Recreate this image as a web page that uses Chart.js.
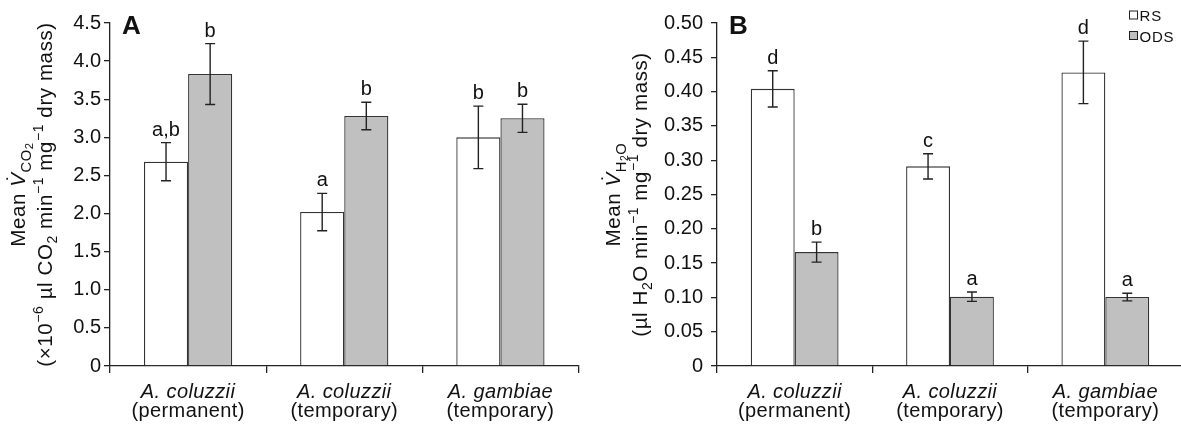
<!DOCTYPE html>
<html>
<head>
<meta charset="utf-8">
<script src="https://cdn.jsdelivr.net/npm/chart.js@4.4.0/dist/chart.umd.min.js"></script>
<style>
  body { margin: 0; background: #fff; }
  #wrap { position: relative; width: 1181px; height: 428px; overflow: hidden; background: #fff; }
  #boxA { position: absolute; left: 0; top: 0; width: 590px; height: 428px; }
  #boxB { position: absolute; left: 590px; top: 0; width: 591px; height: 428px; overflow: hidden; }
</style>
</head>
<body>
<div id="wrap">
  <div id="boxA"><canvas id="chartA" width="590" height="428"></canvas></div>
  <div id="boxB"><canvas id="chartB" width="600" height="428"></canvas></div>
</div>
<script>
// categories
var species = ['A. coluzzii', 'A. coluzzii', 'A. gambiae'];
var habitats = ['(permanent)', '(temporary)', '(temporary)'];
var seriesNames = ['RS', 'ODS'];

// panel A - CO2 release
var co2RS = [2.68, 2.02, 3.00];
var co2RSerr = [0.25, 0.245, 0.41];
var co2ODS = [3.83, 3.28, 3.25];
var co2ODSerr = [0.40, 0.18, 0.185];
var co2RSletters = ['a,b', 'a', 'b'];
var co2ODSletters = ['b', 'b', 'b'];

// panel B - water loss
var h2oRS = [0.404, 0.291, 0.428];
var h2oRSerr = [0.0265, 0.0185, 0.0456];
var h2oODS = [0.166, 0.101, 0.1005];
var h2oODSerr = [0.0146, 0.0068, 0.0055];
var h2oRSletters = ['d', 'c', 'd'];
var h2oODSletters = ['b', 'a', 'a'];

var FONT = 'Arial, "Liberation Sans", Helvetica, sans-serif';
var INK = '#111';

// draws a line of text with sub/superscripts, rotated for a y axis title
function drawRich(ctx, segs, x, cy, base, spacing) {
    ctx.save();
    ctx.translate(x, cy);
    ctx.rotate(-Math.PI / 2);
    ctx.textBaseline = 'alphabetic';
    ctx.textAlign = 'left';
    ctx.letterSpacing = spacing + 'px';
    var total = 0;
    segs.forEach(function(s) {
        ctx.font = (s.it ? 'italic ' : '') + (base * (s.k || 1)) + 'px ' + FONT;
        s.w = s.over ? 0 : ctx.measureText(s.t).width;
        total += s.w;
    });
    var px = -total / 2, last = 0, lastW = 0;
    segs.forEach(function(s) {
        ctx.font = (s.it ? 'italic ' : '') + (base * (s.k || 1)) + 'px ' + FONT;
        ctx.fillStyle = INK;
        if (s.over) {
            ctx.textAlign = 'center';
            ctx.fillText(s.t, last + lastW / 2 + (s.dx || 0), (s.dy || 0) * base);
            ctx.textAlign = 'left';
        } else {
            ctx.fillText(s.t, px, (s.dy || 0) * base);
            last = px; lastW = s.w;
            px += s.w;
        }
    });
    ctx.restore();
}

var decor = {
    id: 'decor',
    afterDatasetsDraw: function(chart) {
        var ctx = chart.ctx, y = chart.scales.y;
        chart.data.datasets.forEach(function(ds, di) {
            var meta = chart.getDatasetMeta(di);
            meta.data.forEach(function(bar, i) {
                var v = ds.data[i], e = ds.errors[i];
                var top = y.getPixelForValue(v + e), bot = y.getPixelForValue(v - e);
                ctx.save();
                ctx.strokeStyle = '#222';
                ctx.lineWidth = 1.4;
                ctx.beginPath();
                ctx.moveTo(bar.x, top); ctx.lineTo(bar.x, bot);
                ctx.moveTo(bar.x - 5, top); ctx.lineTo(bar.x + 5, top);
                ctx.moveTo(bar.x - 5, bot); ctx.lineTo(bar.x + 5, bot);
                ctx.stroke();
                ctx.fillStyle = INK;
                ctx.font = '20px ' + FONT;
                ctx.textAlign = 'center';
                ctx.textBaseline = 'alphabetic';
                ctx.fillText(ds.letters[i], bar.x, top - 7);
                ctx.restore();
            });
        });
    },
    afterDraw: function(chart) {
        var ctx = chart.ctx, x = chart.scales.x, o = chart.options.plugins.decor;
        var area = chart.chartArea;
        ctx.save();
        ctx.fillStyle = INK;
        ctx.textAlign = 'center';
        ctx.textBaseline = 'alphabetic';
        ctx.letterSpacing = '0.4px';
        chart.data.labels.forEach(function(lab, i) {
            var px = x.getPixelForValue(i);
            ctx.font = 'italic 20px ' + FONT;
            ctx.fillText(lab[0], px, 398);
            ctx.font = '20px ' + FONT;
            ctx.fillText(lab[1], px, 417);
        });
        ctx.letterSpacing = '0px';
        // panel letter
        ctx.textAlign = 'left';
        ctx.font = 'bold 26px ' + FONT;
        ctx.fillText(o.panel, area.left + 12, 34);
        ctx.restore();
        // y axis title
        var cy = (area.top + area.bottom) / 2;
        drawRich(ctx, o.title1, o.titleX, cy, 20.5, 0.6);
        drawRich(ctx, o.title2, o.titleX + 26.5, cy, 20.5, 0.6);
        // legend
        if (o.legend) {
            ctx.save();
            chart.data.datasets.forEach(function(ds, di) {
                var ly = 11 + di * 20.5;
                ctx.fillStyle = ds.backgroundColor;
                ctx.fillRect(539.5, ly, 8, 8);
                ctx.strokeStyle = '#222';
                ctx.lineWidth = 1;
                ctx.strokeRect(539.5, ly, 8, 8);
                ctx.fillStyle = INK;
                ctx.font = '15px ' + FONT;
                ctx.letterSpacing = '0.8px';
                ctx.textAlign = 'left';
                ctx.textBaseline = 'alphabetic';
                ctx.fillText(ds.label, 549.5, ly + 10);
            });
            ctx.restore();
        }
    }
};

function makeChart(id, rs, rsErr, rsLet, ods, odsErr, odsLet, yMax, yStep, digits, axisW, rightPad, tickPad, extra) {
    var labels = species.map(function(s, i) { return [s, habitats[i]]; });
    return new Chart(document.getElementById(id), {
        type: 'bar',
        data: {
            labels: labels,
            datasets: [{
                label: seriesNames[0],
                data: rs,
                errors: rsErr,
                letters: rsLet,
                backgroundColor: '#ffffff',
                borderColor: '#333',
                borderWidth: 1.3
            }, {
                label: seriesNames[1],
                data: ods,
                errors: odsErr,
                letters: odsLet,
                backgroundColor: '#c0c0c0',
                borderColor: '#333',
                borderWidth: 1.3
            }]
        },
        options: {
            responsive: false,
            animation: false,
            categoryPercentage: 0.565,
            barPercentage: 1.0,
            layout: { padding: { top: 23, right: rightPad, left: 0, bottom: 0 } },
            plugins: {
                legend: { display: false },
                tooltip: { enabled: false },
                decor: extra
            },
            scales: {
                x: {
                    grid: { display: true, drawOnChartArea: false, drawTicks: true, tickLength: 7, color: '#222', offset: true, lineWidth: 1.3 },
                    border: { display: true, color: '#222', width: 1.3 },
                    ticks: { display: false },
                    afterFit: function(s) { s.height = 62; }
                },
                y: {
                    min: 0,
                    max: yMax,
                    grid: { display: true, drawOnChartArea: false, drawTicks: true, tickLength: 6, color: '#222', lineWidth: 1.3 },
                    border: { display: true, color: '#222', width: 1.3 },
                    ticks: {
                        stepSize: yStep,
                        padding: tickPad,
                        color: INK,
                        font: { size: 20, family: FONT },
                        callback: function(v) { return v === 0 ? '0' : Number(v).toFixed(digits); }
                    },
                    afterFit: function(s) { s.width = axisW; }
                }
            }
        },
        plugins: [decor]
    });
}

var titleA1 = [
    { t: 'Mean ' },
    { t: 'V', it: true },
    { t: '\u02D9', over: true, dx: 2, dy: -0.2 },
    { t: 'CO', k: 0.72, dy: 0.28 },
    { t: '2', k: 0.55, dy: 0.38 }
];
var titleA2 = [
    { t: '(\u00D710' },
    { t: '\u22126', k: 0.68, dy: -0.4 },
    { t: ' \u00B5l CO' },
    { t: '2', k: 0.68, dy: 0.25 },
    { t: ' min' },
    { t: '\u22121', k: 0.68, dy: -0.4 },
    { t: ' mg' },
    { t: '\u22121', k: 0.68, dy: -0.4 },
    { t: ' dry mass)' }
];
var titleB1 = [
    { t: 'Mean ' },
    { t: 'V', it: true },
    { t: '\u02D9', over: true, dx: 2, dy: -0.2 },
    { t: 'H', k: 0.72, dy: 0.28 },
    { t: '2', k: 0.5, dy: 0.38 },
    { t: 'O', k: 0.72, dy: 0.28 }
];
var titleB2 = [
    { t: '(\u00B5l H' },
    { t: '2', k: 0.68, dy: 0.25 },
    { t: 'O min' },
    { t: '\u22121', k: 0.68, dy: -0.4 },
    { t: ' mg' },
    { t: '\u22121', k: 0.68, dy: -0.4 },
    { t: ' dry mass)' }
];

makeChart('chartA', co2RS, co2RSerr, co2RSletters, co2ODS, co2ODSerr, co2ODSletters,
    4.5, 0.5, 1, 110, 11.5, 3,
    { panel: 'A', title1: titleA1, title2: titleA2, titleX: 25, legend: false });
makeChart('chartB', h2oRS, h2oRSerr, h2oRSletters, h2oODS, h2oODSerr, h2oODSletters,
    0.5, 0.05, 2, 127, 7, 8,
    { panel: 'B', title1: titleB1, title2: titleB2, titleX: 30, legend: true });
</script>
</body>
</html>
